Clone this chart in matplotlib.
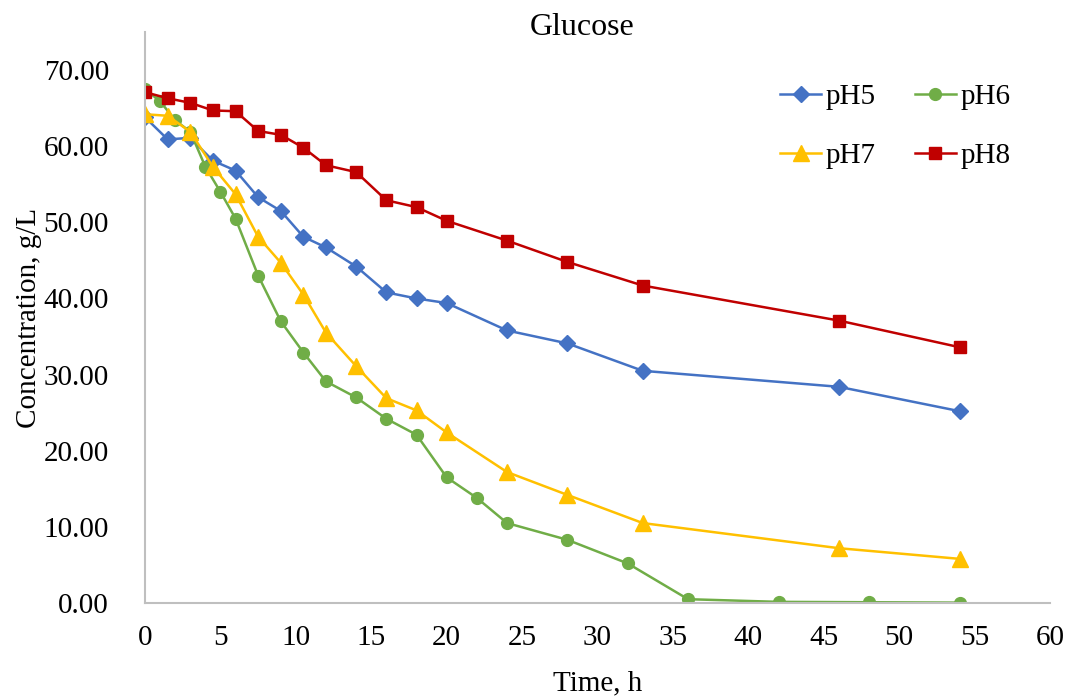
#!/usr/bin/env python3
import matplotlib
matplotlib.use('Agg')
import matplotlib.pyplot as plt

# sampling times (h)
t_ph5 = [0, 1.5, 3, 4.5, 6, 7.5, 9, 10.5, 12, 14, 16, 18, 20, 24, 28, 33, 46, 54]
t_ph6 = [0, 1, 2, 3, 4, 5, 6, 7.5, 9, 10.5, 12, 14, 16, 18, 20, 22, 24, 28, 32, 36, 42, 48, 54]
t_ph7 = [0, 1.5, 3, 4.5, 6, 7.5, 9, 10.5, 12, 14, 16, 18, 20, 24, 28, 33, 46, 54]
t_ph8 = [0, 1.5, 3, 4.5, 6, 7.5, 9, 10.5, 12, 14, 16, 18, 20, 24, 28, 33, 46, 54]

# glucose concentration (g/L)
ph5 = [63.8, 60.9, 61.1, 58.1, 56.8, 53.3, 51.5, 48.1, 46.7, 44.2, 40.8, 40.0, 39.4,
       35.8, 34.1, 30.5, 28.4, 25.2]
ph6 = [67.5, 65.9, 63.4, 61.9, 57.3, 54.0, 50.5, 43.0, 37.0, 32.9, 29.1, 27.0, 24.2,
       22.1, 16.5, 13.8, 10.5, 8.3, 5.2, 0.5, 0.15, 0.1, 0.05]
ph7 = [64.2, 64.0, 61.9, 57.3, 53.7, 48.1, 44.7, 40.5, 35.5, 31.1, 26.9, 25.3, 22.4,
       17.2, 14.2, 10.5, 7.2, 5.8]
ph8 = [67.1, 66.3, 65.7, 64.7, 64.6, 62.0, 61.5, 59.8, 57.5, 56.6, 52.9, 52.0, 50.2,
       47.6, 44.8, 41.7, 37.1, 33.6]

plt.rcParams['font.family'] = ['Liberation Serif', 'DejaVu Serif']

fig = plt.figure(figsize=(10.72, 6.98), dpi=100)
ax = fig.add_axes([0.1353, 0.1361, 0.8442, 0.818])

l5, = ax.plot(t_ph5, ph5, color='#4472C4', lw=1.8, marker='D', ms=8, label='pH5')
l6, = ax.plot(t_ph6, ph6, color='#70AD47', lw=1.8, marker='o', ms=8.5, label='pH6')
l7, = ax.plot(t_ph7, ph7, color='#FFC000', lw=1.8, marker='^', ms=11, label='pH7')
l8, = ax.plot(t_ph8, ph8, color='#C00000', lw=1.8, marker='s', ms=9, label='pH8')

ax.set_xlim(0, 60)
ax.set_ylim(0, 75)
ax.set_xticks(range(0, 61, 5))
ax.set_yticks(range(0, 71, 10))
ax.set_yticklabels(['%.2f' % v for v in range(0, 71, 10)])
ax.tick_params(length=0, labelsize=21)
ax.tick_params(axis='x', pad=16)
ax.tick_params(axis='y', pad=26)

for side in ['top', 'right']:
    ax.spines[side].set_visible(False)
for side in ['left', 'bottom']:
    ax.spines[side].set_color('#BFBFBF')
    ax.spines[side].set_linewidth(1.5)

ax.set_xlabel('Time, h', fontsize=21, labelpad=14)
ax.set_ylabel('Concentration, g/L', fontsize=21, labelpad=1)
fig.text(0.543, 0.96, 'Glucose', fontsize=23, ha='center', va='center')

# row-major legend order: pH5 pH6 / pH7 pH8
ax.legend([l5, l7, l6, l8], ['pH5', 'pH7', 'pH6', 'pH8'], ncol=2, loc='upper right',
          bbox_to_anchor=(0.985, 0.955), frameon=False, fontsize=21,
          handlelength=1.4, columnspacing=1.35, labelspacing=1.1, handletextpad=0.15)

fig.savefig('out.png', dpi=100)
